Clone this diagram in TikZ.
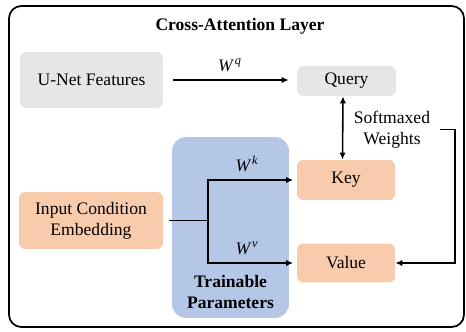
\documentclass[tikz,border=0pt]{standalone}
\usepackage{fontspec}
\setmainfont{Liberation Serif}
\usepackage{tikz}
\usetikzlibrary{arrows.meta, positioning}
\definecolor{gris}{RGB}{231,230,230}
\definecolor{naranja}{RGB}{248,203,173}
\definecolor{azul}{RGB}{180,199,231}
\newcommand{\peso}[1]{{\itshape W\textsuperscript{\,#1}}}

\begin{document}
\begin{tikzpicture}[
        x=0.02cm, y=-0.02cm,
        block/.style={rectangle, rounded corners=3.5pt, align=center, inner sep=2pt},
        feat/.style={block, fill=gris},
        cond/.style={block, fill=naranja},
        param/.style={rectangle, rounded corners=8pt, fill=azul, minimum width=2.34cm, minimum height=3.62cm},
        arrow/.style={-{Latex[length=4pt,width=3.6pt]}, line width=0.9pt},
        frame/.style={line width=1pt, rounded corners=7pt}
    ]
        \useasboundingbox (0,0) rectangle (466,331);
        \draw[frame] (9,6) rectangle (464,327);
        \node[font=\bfseries] (title) at (240,26) {Cross-Attention Layer};

        % trainable projections sit behind the arrows
        \node[param] (train) at (230.5,227.5) {};
        \node[font=\bfseries, align=center, above=2pt of train.south] (trainlbl) {Trainable\\Parameters};

        \node[feat, minimum width=2.86cm, minimum height=1.12cm] (unet) at (91.5,80) {U-Net Features};
        \node[feat, minimum width=1.98cm, minimum height=0.6cm] (query) at (346.5,81) {Query};
        \node[cond, minimum width=1.96cm, minimum height=0.8cm] (key) at (346,180) {Key};
        \node[cond, minimum width=1.96cm, minimum height=0.78cm] (value) at (346,263) {Value};
        \node[cond, minimum width=2.88cm, minimum height=1.14cm] (input) at (91,220.5) {Input Condition\\Embedding};
        \node[align=center] (soft) at (392,129.5) {Softmaxed\\Weights};

        \draw[arrow, shorten <=5.5pt, shorten >=4.5pt] (unet.east) -- (query.west |- unet.east)
            node[midway, above=1pt] (wq) {\peso{q}};

        \coordinate (split) at (208,220.5);
        \draw[line width=0.9pt, shorten <=3.5pt] (input.east) -- (split);
        \draw[arrow, shorten >=2pt] (split) |- (key.west) node[pos=0.72, above=1pt] (wk) {\peso{k}};
        \draw[arrow, shorten >=2pt] (split) |- (value.west) node[pos=0.72, above=1pt] (wv) {\peso{v}};

        \draw[{Latex[length=4pt,width=3.6pt]}-{Latex[length=4pt,width=3.6pt]}, line width=0.9pt]
            ([xshift=-2pt]query.south) -- ([xshift=-2pt]key.north);
        \draw[arrow, shorten <=2pt] (soft.east) -- ++(19,0) |- (value.east);
    \end{tikzpicture}
\end{document}
